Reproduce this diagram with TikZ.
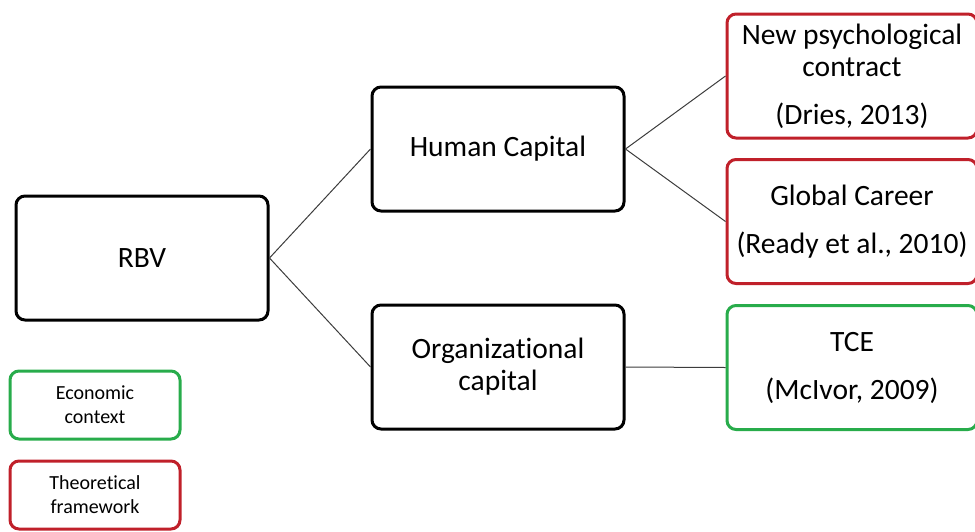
\documentclass[tikz,border=0pt]{standalone}
\usepackage{fontspec}
\setmainfont{Carlito}[Ligatures={NoCommon,NoRequired,NoContextual}]
\definecolor{myred}{RGB}{192,32,42}
\definecolor{mygreen}{RGB}{40,172,75}
\definecolor{linegray}{RGB}{60,60,60}
\begin{document}
\begin{tikzpicture}[x=1pt,y=-1pt,
  box/.style={draw=black,line width=3pt,rounded corners=9pt,minimum width=252pt,minimum height=124pt,align=center,inner sep=0pt,font=\fontsize{29.5}{32}\selectfont},
  redbox/.style={box,draw=myred,minimum width=250pt},
  greenbox/.style={box,draw=mygreen,minimum width=250pt},
  legend/.style={line width=3pt,rounded corners=9pt,minimum width=170pt,minimum height=68pt,align=center,inner sep=0pt,font=\fontsize{20}{24}\selectfont},
  conn/.style={draw=linegray,line width=1pt}]
\useasboundingbox (0,0) rectangle (975,531);
\node[box] (rbv) at (142,258) {RBV};
\node[box] (hc) at (498,149) {Human Capital};
\node[box] (oc) at (498,367) {Organizational\\capital};
\node[redbox] (np) at (852,76) {New psychological\\contract\\[16pt](Dries, 2013)};
\node[redbox] (gc) at (852,221.5) {Global Career\\[16pt](Ready et al., 2010)};
\node[greenbox] (tce) at (852,367.5) {TCE\\[16pt](McIvor, 2009)};
\node[legend,draw=mygreen] (ec) at (95,405) {Economic\\context};
\node[legend,draw=myred] (tf) at (95,495) {Theoretical\\framework};
\draw[conn] (rbv.east) -- (hc.west);
\draw[conn] (rbv.east) -- (oc.west);
\draw[conn] (hc.east) -- (np.west);
\draw[conn] (hc.east) -- (gc.west);
\draw[conn] (oc.east) -- (tce.west);
\end{tikzpicture}
\end{document}
